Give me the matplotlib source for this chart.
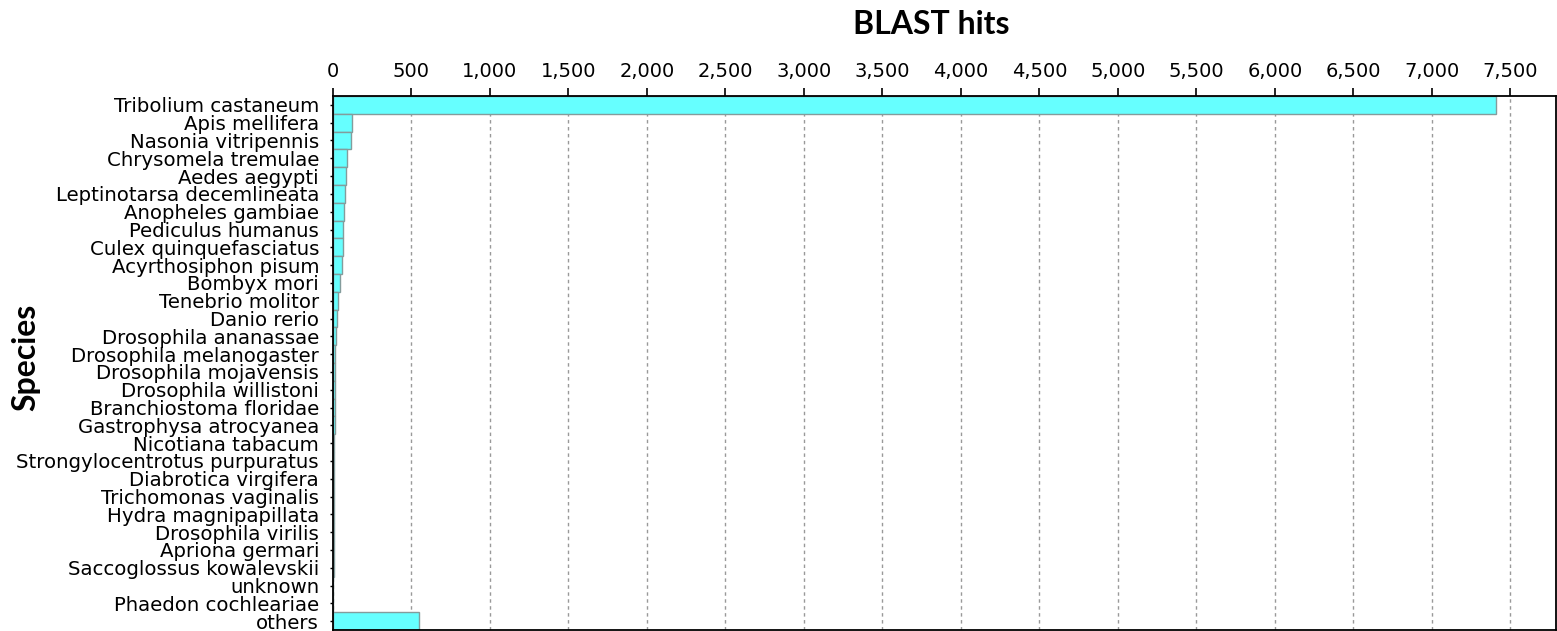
import matplotlib
matplotlib.use("Agg")
import matplotlib.pyplot as plt
from matplotlib.ticker import MultipleLocator, FuncFormatter

species = [
    "Tribolium castaneum", "Apis mellifera", "Nasonia vitripennis",
    "Chrysomela tremulae", "Aedes aegypti", "Leptinotarsa decemlineata",
    "Anopheles gambiae", "Pediculus humanus", "Culex quinquefasciatus",
    "Acyrthosiphon pisum", "Bombyx mori", "Tenebrio molitor", "Danio rerio",
    "Drosophila ananassae", "Drosophila melanogaster", "Drosophila mojavensis",
    "Drosophila willistoni", "Branchiostoma floridae", "Gastrophysa atrocyanea",
    "Nicotiana tabacum", "Strongylocentrotus purpuratus", "Diabrotica virgifera",
    "Trichomonas vaginalis", "Hydra magnipapillata", "Drosophila virilis",
    "Apriona germari", "Saccoglossus kowalevskii", "unknown",
    "Phaedon cochleariae", "others",
]
hits = [
    7410, 118, 117, 90, 80, 76, 68, 66, 66, 56, 46, 30, 26,
    18, 14, 12, 11, 10, 10, 8, 8, 7, 5, 5, 4, 4, 4, 3, 3, 550,
]

W, H = 1557, 631
fig = plt.figure(figsize=(W / 100, H / 100), dpi=100)
ax = fig.add_axes([333 / W, 1 / H, (1556 - 333) / W, (630 - 96) / H])

ypos = list(range(len(species)))
ax.barh(ypos, hits, height=1.0, color="#66ffff", edgecolor="#849c9c",
        linewidth=1.0, zorder=2)

ax.set_ylim(len(species) - 0.5, -0.5)
ax.set_yticks(ypos)
ax.set_yticklabels(species, fontsize=14.2, family="DejaVu Sans")
ax.set_xlim(0, 7790)
ax.xaxis.set_major_locator(MultipleLocator(500))
ax.xaxis.set_major_formatter(FuncFormatter(lambda v, p: f"{int(v):,}"))
ax.xaxis.tick_top()
ax.tick_params(axis="x", labelsize=14, length=6, width=1.2, pad=5,
               colors="black")
ax.tick_params(axis="y", length=2, width=1, pad=8)
for lab in ax.get_xticklabels():
    lab.set_family("DejaVu Sans")

ax.grid(axis="x", color="#999999", linestyle=(0, (2.5, 2.5)), linewidth=1.0,
        zorder=1)
ax.set_axisbelow(True)
for s in ax.spines.values():
    s.set_linewidth(1.3)
    s.set_color("black")

fig.text(931 / W, 1 - 24 / H, "BLAST hits", ha="center", va="center",
         fontsize=23, fontweight="bold", family="Lato")
fig.text(26 / W, 1 - 357 / H, "Species", ha="center", va="center",
         rotation=90, fontsize=23, fontweight="bold", family="Lato")

fig.savefig("out.png", dpi=100)
